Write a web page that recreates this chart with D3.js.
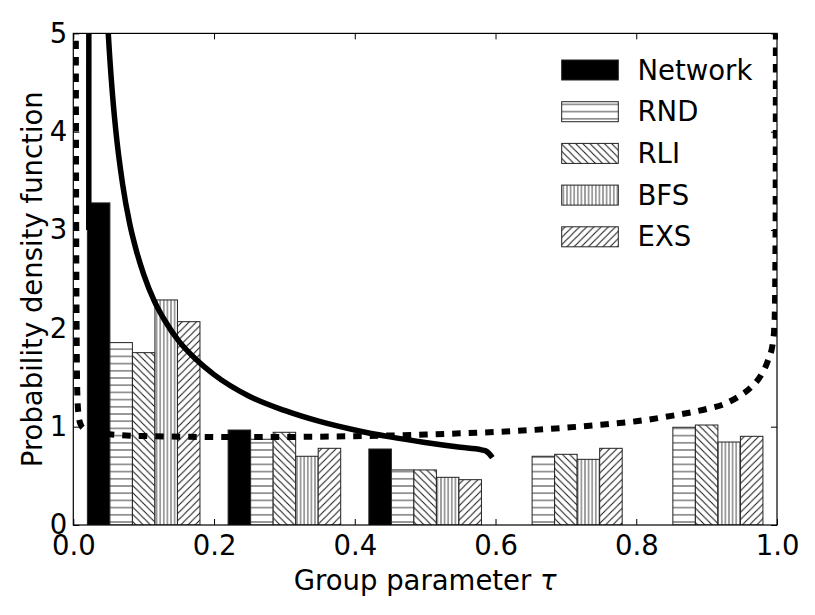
<!DOCTYPE html>
<html>
<head>
<meta charset="utf-8">
<script src="https://cdn.jsdelivr.net/npm/d3@7"></script>
<style>
  html, body { margin: 0; padding: 0; background: #fff; }
  svg { display: block; }
  text { font-family: "DejaVu Sans", sans-serif; fill: #000; }
</style>
</head>
<body>
<div id="chart"></div>
<script>
// ---------------- data ----------------
const categories = ["Network", "RND", "RLI", "BFS", "EXS"];
const binStarts = [0.0, 0.2, 0.4, 0.6, 0.8];
const networkVals = [3.276, 0.966, 0.773, 0, 0];
const rndVals = [1.855, 0.872, 0.560, 0.699, 0.994];
const rliVals = [1.753, 0.943, 0.560, 0.719, 1.017];
const bfsVals = [2.289, 0.699, 0.485, 0.668, 0.844];
const exsVals = [2.068, 0.780, 0.461, 0.780, 0.902];

// solid curve
const solidX = [0.022, 0.0222, 0.045, 0.0497, 0.055, 0.060, 0.070, 0.080, 0.090, 0.100, 0.115, 0.130, 0.150, 0.175, 0.200, 0.250, 0.300, 0.350, 0.400, 0.450, 0.500, 0.550, 0.580, 0.587, 0.5956];
const solidY = [3.0, 9.0, 5.69, 5.0, 4.44, 4.04, 3.47, 3.07, 2.78, 2.55, 2.28, 2.08, 1.87, 1.68, 1.53, 1.31, 1.165, 1.053, 0.966, 0.896, 0.839, 0.790, 0.764, 0.750, 0.685];

// dashed curve
const dashX = [0.0035, 0.0038, 0.0042, 0.0048, 0.0055, 0.007, 0.010, 0.015, 0.025, 0.04, 0.064, 0.1, 0.15, 0.2, 0.25, 0.3, 0.35, 0.4, 0.45, 0.5, 0.55, 0.6, 0.65, 0.7, 0.75, 0.8, 0.85, 0.9, 0.925, 0.944, 0.963, 0.977, 0.987, 0.994, 0.9965, 0.998, 0.9985];
const dashY = [5.6, 4.0, 2.8, 1.9, 1.4, 1.15, 1.03, 0.98, 0.95, 0.93, 0.915, 0.905, 0.898, 0.895, 0.894, 0.895, 0.898, 0.903, 0.91, 0.92, 0.932, 0.946, 0.965, 0.99, 1.02, 1.055, 1.11, 1.18, 1.23, 1.30, 1.40, 1.52, 1.67, 1.85, 2.05, 3.0, 5.6];

const xTicks = [0.0, 0.2, 0.4, 0.6, 0.8, 1.0];
const yTicks = [0, 1, 2, 3, 4, 5];
const xLabel = "Group parameter ";
const yLabel = "Probability density function";

// ---------------- layout ----------------
const W = 815, H = 615;
const L = 73.3, R = 777, T = 33.4, B = 525;

const svg = d3.select("#chart").append("svg").attr("width", W).attr("height", H);
const x = d3.scaleLinear().domain([0, 1]).range([L, R]);
const y = d3.scaleLinear().domain([0, 5]).range([B, T]);
const inner = d3.scaleBand().domain(categories).range([0.02, 0.18]).padding(0);

const defs = svg.append("defs");
defs.append("clipPath").attr("id", "plotclip").append("rect")
  .attr("x", L).attr("y", T).attr("width", R - L).attr("height", B - T);

function pattern(id, w, h, d, color) {
  const p = defs.append("pattern").attr("id", id).attr("patternUnits", "userSpaceOnUse")
    .attr("width", w).attr("height", h);
  p.append("rect").attr("width", w).attr("height", h).attr("fill", "#fff");
  p.append("path").attr("d", d).attr("stroke", color).attr("stroke-width", 1).attr("fill", "none");
}
const hs = 7.2, vs = 3.6;
pattern("hH", 8, hs, `M0,${hs/2}H8`, "#3a3a3a");
pattern("hV", vs, 8, `M${vs/2},0V8`, "#4a4a4a");
pattern("hB", hs, hs, `M0,0L${hs},${hs}M${-hs/2},${hs/2}L${hs/2},${hs*1.5}M${hs/2},${-hs/2}L${hs*1.5},${hs/2}`, "#111");
pattern("hF", hs, hs, `M0,${hs}L${hs},0M${-hs/2},${hs/2}L${hs/2},${-hs/2}M${hs/2},${hs*1.5}L${hs*1.5},${hs/2}`, "#111");

const fills = { Network: "#000", RND: "url(#hH)", RLI: "url(#hB)", BFS: "url(#hV)", EXS: "url(#hF)" };
const seriesVals = { Network: networkVals, RND: rndVals, RLI: rliVals, BFS: bfsVals, EXS: exsVals };

// ---------------- bars ----------------
const barsG = svg.append("g").attr("clip-path", "url(#plotclip)");
categories.forEach(cat => {
  const vals = seriesVals[cat];
  barsG.selectAll(null).data(binStarts.map((b, i) => ({ b, v: vals[i] }))).enter()
    .append("rect")
    .attr("x", d => x(d.b + inner(cat)))
    .attr("width", d => x(d.b + inner(cat) + inner.bandwidth()) - x(d.b + inner(cat)))
    .attr("y", d => y(d.v))
    .attr("height", d => y(0) - y(d.v))
    .attr("fill", fills[cat])
    .attr("stroke", "#222").attr("stroke-width", 1);
});

// ---------------- curves ----------------
const lineG = svg.append("g").attr("clip-path", "url(#plotclip)");
const line = d3.line().x(d => x(d[0])).y(d => y(d[1])).curve(d3.curveMonotoneX);
lineG.append("path").datum(solidX.map((v, i) => [v, solidY[i]]))
  .attr("d", line).attr("fill", "none").attr("stroke", "#000").attr("stroke-width", 5.5)
  .attr("stroke-linejoin", "round");
lineG.append("path").datum(dashX.map((v, i) => [v, dashY[i]]))
  .attr("d", line).attr("fill", "none").attr("stroke", "#000").attr("stroke-width", 6)
  .attr("stroke-dasharray", "8.5,8");

// ---------------- axes ----------------
const fs = 27.5;
const axB = svg.append("g").attr("transform", `translate(0,${B})`)
  .call(d3.axisBottom(x).tickValues(xTicks).tickFormat(d3.format(".1f")).tickSize(-6).tickPadding(10));
const axT = svg.append("g").attr("transform", `translate(0,${T})`)
  .call(d3.axisTop(x).tickValues(xTicks).tickFormat("").tickSize(-6));
const axL = svg.append("g").attr("transform", `translate(${L},0)`)
  .call(d3.axisLeft(y).tickValues(yTicks).tickFormat(d3.format("d")).tickSize(-6).tickPadding(6));
const axR = svg.append("g").attr("transform", `translate(${R},0)`)
  .call(d3.axisRight(y).tickValues(yTicks).tickFormat("").tickSize(-6));
[axB, axT, axL, axR].forEach(g => {
  g.select(".domain").remove();
  g.selectAll("line").attr("stroke", "#000").attr("stroke-width", 1);
  g.selectAll("text").attr("font-size", fs).attr("font-family", "DejaVu Sans").attr("fill", "#000");
});
svg.append("rect").attr("x", L).attr("y", T).attr("width", R - L).attr("height", B - T)
  .attr("fill", "none").attr("stroke", "#000").attr("stroke-width", 1.2);

// axis labels
const xl = svg.append("text").attr("x", (L + R) / 2).attr("y", 590).attr("text-anchor", "middle")
  .attr("font-size", fs);
xl.append("tspan").text(xLabel);
xl.append("tspan").attr("font-style", "italic").text("τ");
svg.append("text").attr("transform", `translate(42,${(T + B) / 2}) rotate(-90)`)
  .attr("text-anchor", "middle").attr("font-size", fs).text(yLabel);

// ---------------- legend ----------------
const leg = svg.append("g");
categories.forEach((cat, i) => {
  const cy = 70 + i * 41.7;
  leg.append("rect").attr("x", 561.7).attr("y", cy - 10).attr("width", 56.6).attr("height", 20)
    .attr("fill", fills[cat]).attr("stroke", "#222").attr("stroke-width", 1);
  leg.append("text").attr("x", 637.5).attr("y", cy).attr("dy", "0.35em")
    .attr("font-size", fs).text(cat);
});
</script>
</body>
</html>
